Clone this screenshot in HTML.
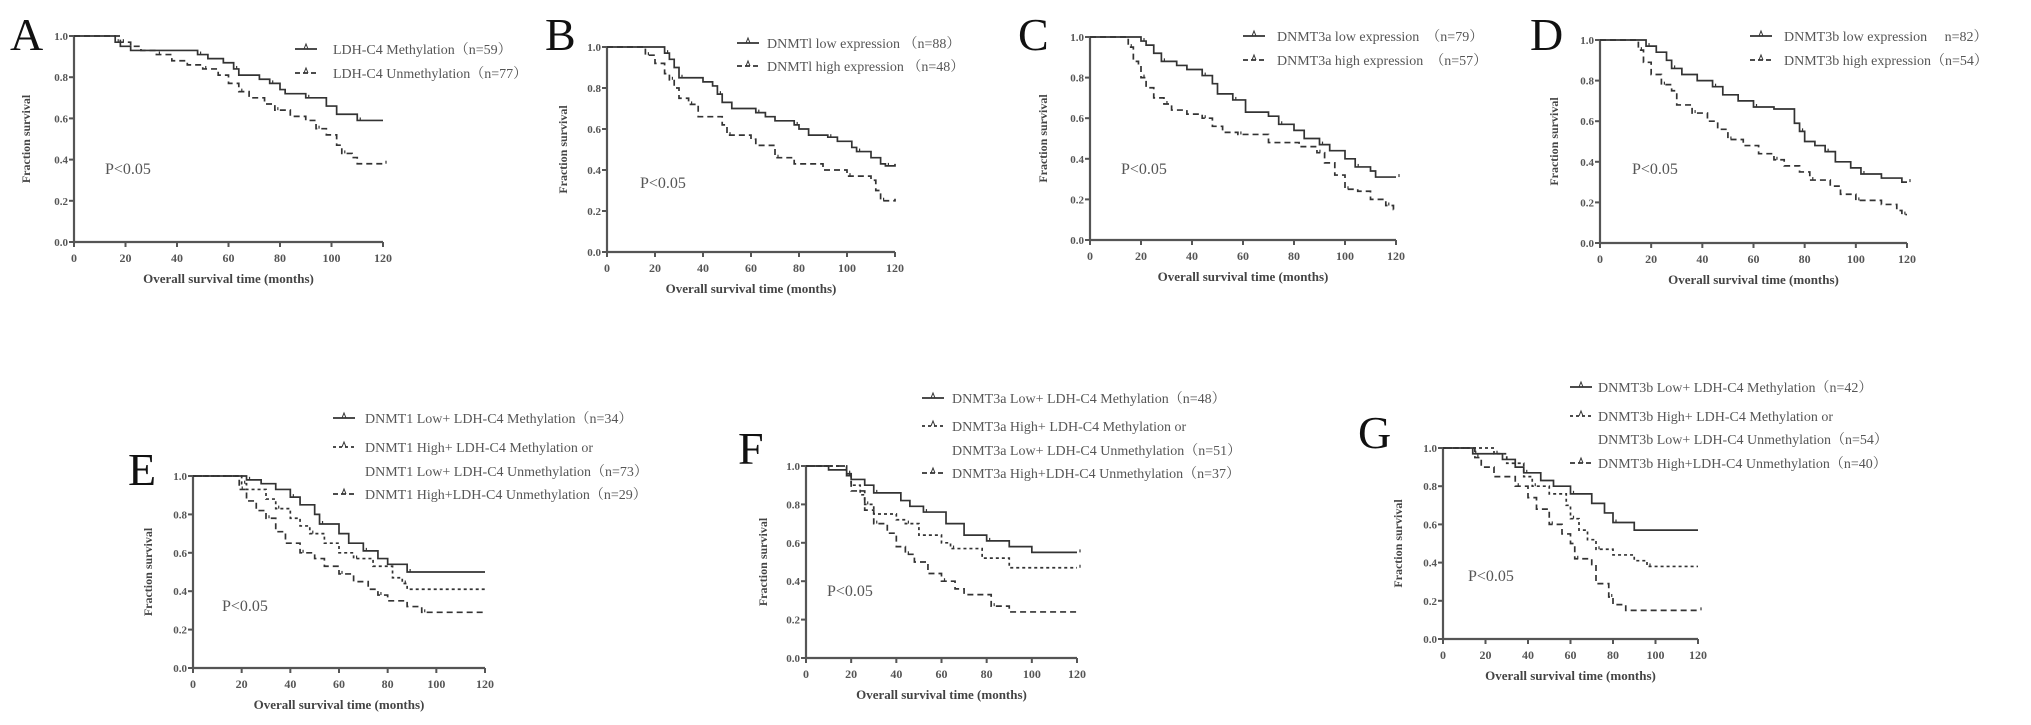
<!DOCTYPE html>
<html><head><meta charset="utf-8">
<style>
html,body{margin:0;padding:0;background:#fff;}
svg{display:block;font-family:"Liberation Serif",serif;}
</style></head>
<body>
<svg id="fig" width="2031" height="725" viewBox="0 0 2031 725" xmlns="http://www.w3.org/2000/svg"></svg>
<script>
// ---- data (time in months, fraction survival) ----
const xTicks=[0,20,40,60,80,100,120];
const yTicks=[0,0.2,0.4,0.6,0.8,1.0];
const yTickLabels=["0.0","0.2","0.4","0.6","0.8","1.0"];

const aMethT=[0,15,16,18,22,48,52,58,62,64,72,76,80,82,90,98,102,110,120];
const aMethS=[1,1,0.97,0.95,0.93,0.91,0.89,0.87,0.84,0.81,0.79,0.77,0.74,0.72,0.70,0.66,0.62,0.59,0.59];
const aUnT=[0,16,18,22,26,32,38,44,50,56,60,64,68,74,78,84,90,94,98,102,104,108,110,120];
const aUnS=[1,1,0.97,0.95,0.93,0.91,0.88,0.86,0.84,0.81,0.77,0.73,0.70,0.67,0.64,0.61,0.59,0.55,0.52,0.47,0.43,0.41,0.38,0.38];

const bLowT=[0,22,24,26,28,30,40,44,46,48,52,62,66,70,78,80,84,92,96,102,104,110,114,116,120];
const bLowS=[1,1,0.97,0.94,0.90,0.85,0.83,0.81,0.77,0.73,0.70,0.68,0.66,0.64,0.62,0.60,0.57,0.56,0.54,0.51,0.49,0.46,0.43,0.42,0.43];
const bHighT=[0,14,16,20,24,26,28,30,34,38,48,50,60,62,70,78,90,100,110,112,114,120];
const bHighS=[1,1,0.96,0.92,0.87,0.84,0.80,0.75,0.72,0.66,0.62,0.57,0.55,0.52,0.46,0.43,0.40,0.37,0.35,0.30,0.25,0.26];

const cLowT=[0,16,20,22,25,28,34,38,44,48,50,56,61,70,74,80,84,90,94,100,104,110,112,120];
const cLowS=[1,1,0.98,0.96,0.92,0.88,0.86,0.84,0.81,0.77,0.72,0.69,0.63,0.61,0.57,0.54,0.50,0.47,0.44,0.40,0.36,0.34,0.31,0.31];
const cHighT=[0,13,15,17,19,20,22,25,29,32,38,44,48,52,58,70,82,89,92,96,100,105,110,116,119,120];
const cHighS=[1,1,0.95,0.88,0.86,0.80,0.75,0.70,0.67,0.64,0.62,0.60,0.56,0.53,0.52,0.48,0.46,0.43,0.38,0.32,0.25,0.24,0.20,0.17,0.15,0.15];

const dLowT=[0,16,18,22,26,28,32,38,44,48,54,60,68,76,78,80,84,88,92,98,102,110,118,120];
const dLowS=[1,1,0.97,0.94,0.90,0.86,0.83,0.80,0.77,0.73,0.70,0.67,0.66,0.59,0.55,0.50,0.48,0.45,0.40,0.37,0.34,0.32,0.30,0.30];
const dHighT=[0,13,15,17,20,24,28,30,36,42,46,50,56,62,68,72,78,82,90,94,100,110,116,118,120];
const dHighS=[1,1,0.95,0.89,0.83,0.78,0.75,0.68,0.64,0.60,0.56,0.51,0.48,0.44,0.41,0.38,0.35,0.31,0.28,0.24,0.21,0.19,0.16,0.14,0.14];

const e1T=[0,18,22,28,34,40,44,50,52,60,64,70,76,80,88,120];
const e1S=[1,1,0.98,0.96,0.93,0.89,0.85,0.80,0.75,0.70,0.65,0.61,0.57,0.54,0.50,0.50];
const e2T=[0,16,20,22,30,34,40,44,48,54,60,66,74,82,86,88,120];
const e2S=[1,1,0.96,0.93,0.88,0.83,0.78,0.74,0.70,0.65,0.60,0.57,0.53,0.47,0.44,0.41,0.41];
const e3T=[0,16,19,22,26,30,34,38,44,50,54,60,66,72,76,80,88,94,120];
const e3S=[1,1,0.93,0.87,0.82,0.78,0.71,0.65,0.60,0.57,0.53,0.49,0.45,0.41,0.38,0.35,0.32,0.29,0.29];

const f1T=[0,10,18,20,26,30,42,46,52,62,70,80,90,100,120];
const f1S=[1,0.98,0.96,0.93,0.90,0.86,0.82,0.79,0.76,0.70,0.64,0.61,0.58,0.55,0.55];
const f2T=[0,14,18,20,24,26,30,40,44,50,60,64,78,90,120];
const f2S=[1,1,0.95,0.90,0.85,0.80,0.75,0.72,0.70,0.64,0.60,0.57,0.52,0.47,0.47];
const f3T=[0,15,18,20,26,30,36,40,44,48,54,60,66,70,82,90,120];
const f3S=[1,1,0.95,0.87,0.77,0.70,0.65,0.58,0.54,0.50,0.44,0.40,0.36,0.33,0.27,0.24,0.24];

const g1T=[0,12,14,28,34,38,46,52,60,70,76,80,90,120];
const g1S=[1,1,0.97,0.94,0.90,0.87,0.83,0.80,0.76,0.71,0.66,0.61,0.57,0.57];
const g2T=[0,22,24,30,38,42,50,58,60,64,68,72,80,90,96,120];
const g2S=[1,1,0.97,0.92,0.85,0.80,0.76,0.70,0.63,0.57,0.52,0.47,0.44,0.41,0.38,0.38];
const g3T=[0,10,15,18,24,34,40,44,50,56,60,62,70,72,78,80,86,120];
const g3S=[1,1,0.95,0.90,0.85,0.80,0.74,0.68,0.60,0.55,0.50,0.42,0.39,0.29,0.22,0.18,0.15,0.15];

const NS="http://www.w3.org/2000/svg";
const svg=document.getElementById('fig');
function mk(tag,attrs,parent){const e=document.createElementNS(NS,tag);for(const k in attrs)e.setAttribute(k,attrs[k]);(parent||svg).appendChild(e);return e;}

const panels=[
 {id:'a',L:'A',lx:10,ly:50,x0:74,x1:383,yT:36,yB:242,ytx:30,p:[105,174],
  leg:{lx:295,tx:333,rows:[49,73]},labels:["LDH-C4 Methylation（n=59）","LDH-C4 Unmethylation（n=77）"],
  series:[[aMethT,aMethS,'none'],[aUnT,aUnS,'6,4']]},
 {id:'b',L:'B',lx:545,ly:50,x0:607,x1:895,yT:47,yB:252,ytx:567,p:[640,188],
  leg:{lx:737,tx:767,rows:[43,66]},labels:["DNMTl low expression （n=88）","DNMTl high expression （n=48）"],
  series:[[bLowT,bLowS,'none'],[bHighT,bHighS,'6,4']]},
 {id:'c',L:'C',lx:1018,ly:50,x0:1090,x1:1396,yT:37,yB:240,ytx:1047,p:[1121,174],
  leg:{lx:1243,tx:1277,rows:[36,60]},labels:["DNMT3a low expression　（n=79）","DNMT3a high expression　（n=57）"],
  series:[[cLowT,cLowS,'none'],[cHighT,cHighS,'6,4']]},
 {id:'d',L:'D',lx:1530,ly:50,x0:1600,x1:1907,yT:40,yB:243,ytx:1558,p:[1632,174],
  leg:{lx:1750,tx:1784,rows:[36,60]},labels:["DNMT3b low expression　 n=82）","DNMT3b high expression（n=54）"],
  series:[[dLowT,dLowS,'none'],[dHighT,dHighS,'6,4']]},
 {id:'e',L:'E',lx:128,ly:485,x0:193,x1:485,yT:476,yB:668,ytx:152,p:[222,611],
  leg:{lx:333,tx:365,rows:[418,447,471,494]},labels:["DNMT1 Low+ LDH-C4 Methylation（n=34）","DNMT1 High+ LDH-C4 Methylation or","DNMT1 Low+ LDH-C4 Unmethylation（n=73）","DNMT1 High+LDH-C4 Unmethylation（n=29）"],
  series:[[e1T,e1S,'none'],[e2T,e2S,'3,3'],[e3T,e3S,'6,4']]},
 {id:'f',L:'F',lx:738,ly:464,x0:806,x1:1077,yT:466,yB:658,ytx:767,p:[827,596],
  leg:{lx:922,tx:952,rows:[398,426,450,473]},labels:["DNMT3a  Low+ LDH-C4 Methylation（n=48）","DNMT3a  High+ LDH-C4 Methylation or","DNMT3a  Low+ LDH-C4 Unmethylation（n=51）","DNMT3a  High+LDH-C4 Unmethylation（n=37）"],
  series:[[f1T,f1S,'none'],[f2T,f2S,'3,3'],[f3T,f3S,'6,4']]},
 {id:'g',L:'G',lx:1358,ly:448,x0:1443,x1:1698,yT:448,yB:639,ytx:1402,p:[1468,581],
  leg:{lx:1570,tx:1598,rows:[387,416,439,463]},labels:["DNMT3b  Low+ LDH-C4 Methylation（n=42）","DNMT3b High+ LDH-C4 Methylation or","DNMT3b Low+ LDH-C4 Unmethylation（n=54）","DNMT3b High+LDH-C4 Unmethylation（n=40）"],
  series:[[g1T,g1S,'none'],[g2T,g2S,'3,3'],[g3T,g3S,'6,4']]}
];

panels.forEach(P=>{
 const g=mk('g',{});
 
 
 const sx=t=>P.x0+(P.x1-P.x0)*t/120;
 const sy=v=>P.yB-(P.yB-P.yT)*v;
 const letter=mk('text',{x:P.lx,y:P.ly,'font-size':46,fill:'#111'},g);letter.textContent=P.L;
 
 
 // axes
 const ax=mk('path',{d:`M${P.x0},${P.yT}V${P.yB}H${P.x1}`,stroke:'#555',fill:'none','stroke-width':2.2},g);
 
 
 yTicks.forEach((v,i)=>{
  mk('line',{x1:P.x0-5,x2:P.x0,y1:sy(v),y2:sy(v),stroke:'#555','stroke-width':2},g);
  const t=mk('text',{x:P.x0-6,y:sy(v)+4,'font-size':11,'font-weight':'bold','text-anchor':'end',fill:'#555'},g);t.textContent=yTickLabels[i];
  
  
 });
 xTicks.forEach(v=>{
  mk('line',{x1:sx(v),x2:sx(v),y1:P.yB,y2:P.yB+5,stroke:'#555','stroke-width':2},g);
  const t=mk('text',{x:sx(v),y:P.yB+20,'font-size':12,'font-weight':'bold','text-anchor':'middle',fill:'#555'},g);t.textContent=v;
  
  
 });
 const xt=mk('text',{x:(P.x0+P.x1)/2,y:P.yB+41,'font-size':13,'font-weight':'bold','text-anchor':'middle',fill:'#444'},g);
 xt.textContent='Overall survival time (months)';
 
 
 const cy=(P.yT+P.yB)/2;
 const yt=mk('text',{x:P.ytx,y:cy,'font-size':12,'font-weight':'bold','text-anchor':'middle',fill:'#444',transform:`rotate(-90 ${P.ytx} ${cy})`},g);
 yt.textContent='Fraction survival';
 
 
 const pv=mk('text',{x:P.p[0],y:P.p[1],'font-size':16,fill:'#555'},g);pv.textContent='P<0.05';
 
 
 // curves
 P.series.forEach((s,si)=>{
  const [T,S,dash]=s;
  let d=`M${sx(T[0])},${sy(S[0])}`;
  for(let i=1;i<T.length;i++){d+=`H${sx(T[i])}V${sy(S[i])}`;}
  const c=mk('path',{d:d,fill:'none',stroke:'#333','stroke-width':1.7,'stroke-dasharray':dash},g);
  
  
  for(let i=2;i<T.length;i+=3){
   const m=mk('line',{x1:sx(T[i])+3,x2:sx(T[i])+3,y1:sy(S[i])-3,y2:sy(S[i]),stroke:'#333','stroke-width':1.2},g);
   
   
  }
  // legend
  let row=si; if(P.series.length===3&&si===2) row=3;
  const ly=P.leg.rows[row];
  const ll=mk('path',{d:`M${P.leg.lx},${ly}H${P.leg.lx+22}`,stroke:'#333','stroke-width':1.7,'stroke-dasharray':dash==='none'?'none':(dash==='3,3'?'3,3':'5,3'),fill:'none'},g);
  
  
  mk('path',{d:`M${P.leg.lx+9},${ly}l2,-5l2,5`,stroke:'#333','stroke-width':1,fill:'none'},g);
 });
 P.labels.forEach((lab,i)=>{
  const t=mk('text',{x:P.leg.tx,y:P.leg.rows[i]+5,'font-size':14,fill:'#555','font-family':'"Liberation Serif","Noto Serif CJK SC",serif'},g);
  t.textContent=lab;
  
  
 });
});
</script>
</body></html>
